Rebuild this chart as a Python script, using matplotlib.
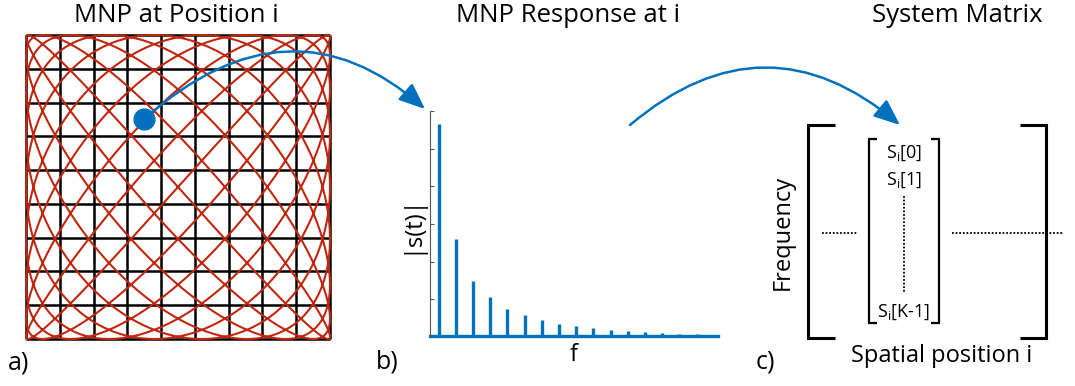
import numpy as np
import matplotlib
matplotlib.use("Agg")
import matplotlib.pyplot as plt
from matplotlib.patches import FancyArrowPatch
from matplotlib.path import Path

plt.rcParams['font.family'] = ['Open Sans', 'DejaVu Sans']
plt.rcParams['mathtext.default'] = 'regular'

# ---------------- data ----------------
titles = ["MNP at Position i", "MNP Response at i", "System Matrix"]
panel_labels = ["a)", "b)", "c)"]
grid_cells = 9
lissajous_freq_x = 9
lissajous_freq_y = 10
lissajous_phase = 0.0
odd_harmonics = [1, 3, 5, 7, 9, 11, 13, 15, 17, 19, 21, 23, 25, 27, 29, 31, 33]
odd_amplitudes = [5.66, 2.60, 1.48, 1.05, 0.74, 0.58, 0.46, 0.35, 0.28, 0.23,
                  0.19, 0.16, 0.13, 0.11, 0.09, 0.07, 0.06]
even_harmonics = [2, 4, 6, 8, 10, 12, 14, 16, 18, 20, 22, 24, 26, 28, 30, 32]
even_amplitudes = [0.05] * 16
column_entries = ["S$_{i}$[0]", "S$_{i}$[1]", "S$_{i}$[K-1]"]

BLUE = '#0072BD'
RED = '#C1260F'

W, H = 1075, 386
fig = plt.figure(figsize=(W / 100, H / 100), dpi=100)


def px_axes(x0, y0, x1, y1):
    return fig.add_axes([x0 / W, 1 - y1 / H, (x1 - x0) / W, (y1 - y0) / H])


# ---------------- panel a ----------------
axa = px_axes(26, 35, 330, 339)
axa.set_xlim(0, grid_cells)
axa.set_ylim(0, grid_cells)
axa.axis('off')
ticks = np.arange(grid_cells + 1)
axa.vlines(ticks, 0, grid_cells, color='black', lw=1.8, clip_on=False, zorder=1)
axa.hlines(ticks, 0, grid_cells, color='black', lw=1.8, clip_on=False, zorder=1)
t = np.linspace(0, 2 * np.pi, 6000)
lx = (np.sin(lissajous_freq_x * t) + 1) / 2 * grid_cells
ly = (np.sin(lissajous_freq_y * t + lissajous_phase) + 1) / 2 * grid_cells
axa.plot(lx, ly, color=RED, lw=1.5, clip_on=False, zorder=2)

# ---------------- panel b ----------------
axb = px_axes(430, 111, 718, 337)
axb.set_xlim(0, 33.5)
axb.set_ylim(0, 6)
for s in ['top', 'right', 'bottom']:
    axb.spines[s].set_visible(False)
axb.spines['left'].set_color('#555555')
axb.spines['left'].set_linewidth(0.8)
axb.set_xticks([])
axb.set_yticks(np.arange(0, 7))
axb.tick_params(axis='y', direction='in', length=3, width=0.8, colors='#555555',
                labelleft=False)
axb.vlines(odd_harmonics, 0, odd_amplitudes, color=BLUE, lw=2.4, clip_on=False)
axb.vlines(even_harmonics, 0, even_amplitudes, color=BLUE, lw=2.4, clip_on=False)
axb.axhline(0.02, color=BLUE, lw=2.4, clip_on=False)
axb.set_ylabel("|s(t)|", fontsize=17, labelpad=5)
axb.set_xlabel("f", fontsize=17, labelpad=4)

# ---------------- overlay ----------------
ov = fig.add_axes([0, 0, 1, 1], zorder=5)
ov.set_xlim(0, W)
ov.set_ylim(H, 0)
ov.axis('off')
ov.patch.set_alpha(0)

ov.text(176, 16, titles[0], fontsize=18.5, ha='center', va='center')
ov.text(568, 16, titles[1], fontsize=18.5, ha='center', va='center')
ov.text(957, 16, titles[2], fontsize=18.5, ha='center', va='center')
ov.text(19, 363, panel_labels[0], fontsize=18, ha='center', va='center')
ov.text(387, 362, panel_labels[1], fontsize=18, ha='center', va='center')
ov.text(765, 362, panel_labels[2], fontsize=18, ha='center', va='center')

# dot
ov.plot([144], [119], 'o', color=BLUE, markersize=15, zorder=6)

# arrows
def curved_arrow(p0, c, p1):
    path = Path([p0, c, p1], [Path.MOVETO, Path.CURVE3, Path.CURVE3])
    arr = FancyArrowPatch(path=path, arrowstyle='-|>,head_length=0.8,head_width=0.33',
                          mutation_scale=20, color=BLUE, lw=1.8, zorder=6)
    ov.add_patch(arr)

curved_arrow((144, 119), (290, -10), (425, 109))
curved_arrow((630, 125), (765, 11), (900, 125))

# matrix brackets
k = dict(color='black', lw=2.2, solid_capstyle='butt', solid_joinstyle='miter')
ov.plot([835, 808, 808, 835], [125, 125, 338, 338], **k)
ov.plot([1020, 1046, 1046, 1020], [125, 125, 338, 338], **k)
k2 = dict(color='black', lw=1.6, solid_capstyle='butt', solid_joinstyle='miter')
ov.plot([877, 869, 869, 877], [139, 139, 323, 323], **k2)
ov.plot([931, 939, 939, 931], [139, 139, 323, 323], **k2)

ov.text(904, 153, column_entries[0], fontsize=13, ha='center', va='center')
ov.text(904, 180, column_entries[1], fontsize=13, ha='center', va='center')
ov.text(904, 312, column_entries[2], fontsize=13, ha='center', va='center')
ov.plot([904, 904], [196, 293], color='black', lw=1.3, ls=(0, (1, 1)))
ov.plot([822, 858], [233, 233], color='black', lw=1.3, ls=(0, (1, 1)))
ov.plot([952, 1063], [233, 233], color='black', lw=1.3, ls=(0, (1, 1)))

ov.text(783, 232, "Frequency", fontsize=17, ha='center', va='center', rotation=90)
ov.text(942, 356, "Spatial position i", fontsize=17, ha='center', va='center')

fig.savefig("out.png", dpi=100)
